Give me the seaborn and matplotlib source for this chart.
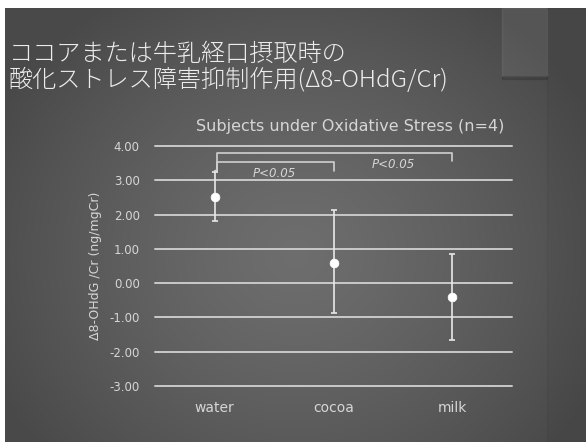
import numpy as np
import pandas as pd
import matplotlib
matplotlib.use("Agg")
import matplotlib.pyplot as plt
import seaborn as sns

# Values
groups = ["water", "cocoa", "milk"]
means = [2.50, 0.60, -0.40]
err_low = [1.80, -0.87, -1.67]
err_high = [3.25, 2.13, 0.85]
yticks = [4.0, 3.0, 2.0, 1.0, 0.0, -1.0, -2.0, -3.0]
# significance brackets: (start group, end group, bar level, end drop level, label)
brackets = [(0, 1, 3.52, 3.26, "P<0.05"), (0, 2, 3.79, 3.56, "P<0.05")]

title_lines = ["ココアまたは牛乳経口摂取時の", "酸化ストレス障害抑制作用(Δ8-OHdG/Cr)"]
subtitle = "Subjects under Oxidative Stress (n=4)"
ylabel = "Δ8-OHdG /Cr (ng/mgCr)"

sns.set_theme(style="dark")
plt.rcParams["font.family"] = ["DejaVu Sans", "Noto Sans CJK JP"]

W, H = 586, 442
fig = plt.figure(figsize=(W / 100, H / 100), dpi=100)
fig.patch.set_facecolor("white")

# slide background with a soft radial highlight
bg = fig.add_axes([5 / W, 0, 1 - 5 / W, 1 - 8 / H])
yy, xx = np.mgrid[0:434, 0:581]
r = np.sqrt(((xx - 290) / 330) ** 2 + ((yy - 245) / 300) ** 2)
shade = 0.43 - 0.14 * np.clip(r, 0, 1) ** 1.3
img = np.dstack([shade, shade, shade])
bg.imshow(img, aspect="auto", extent=[0, 581, 434, 0])
# faint decorative tab top-right
bg.add_patch(plt.Rectangle((497, 0), 45, 68, color="#ffffff", alpha=0.07, zorder=2))
bg.add_patch(plt.Rectangle((497, 68), 45, 3, color="#000000", alpha=0.12, zorder=2))
bg.add_patch(plt.Rectangle((542, 0), 39, 434, color="#000000", alpha=0.03, zorder=2))
bg.set_xlim(0, 581)
bg.set_ylim(434, 0)
bg.axis("off")

cjk = ["Noto Sans CJK JP", "DejaVu Sans"]
fig.text(9 / W, 1 - 54 / H, title_lines[0], color="#ececec", fontsize=17.4,
         va="center", ha="left", family=cjk, fontweight="light")
fig.text(9 / W, 1 - 80 / H, title_lines[1], color="#ececec", fontsize=17.4,
         va="center", ha="left", family=cjk, fontweight="light")

light = "#d6d6d6"
ax = fig.add_axes([155 / W, 1 - 386 / H, (512 - 155) / W, (386 - 146) / H])
ax.patch.set_alpha(0)

df = pd.DataFrame({"group": groups, "mean": means})
sns.scatterplot(data=df, x="group", y="mean", ax=ax, color="white", s=40,
                edgecolor="white", zorder=5, legend=False)
ax.errorbar(np.arange(len(groups)), means,
            yerr=[np.subtract(means, err_low), np.subtract(err_high, means)],
            fmt="none", ecolor="#e8e8e8", elinewidth=1.2, capsize=2.5,
            capthick=1.2, zorder=4)

ax.set_xlim(-0.5, 2.5)
ax.set_ylim(-3, 4)
ax.set_yticks(yticks)
ax.set_yticklabels([f"{v:.2f}" for v in yticks], color=light, fontsize=8.5)
ax.set_xticks(range(len(groups)))
ax.set_xticklabels(groups, color=light, fontsize=10)
ax.tick_params(length=0)
ax.tick_params(axis="y", pad=11)
ax.tick_params(axis="x", pad=11)
for v in yticks:
    ax.axhline(v, color="#c9c9c9", lw=1.4, zorder=1, clip_on=False)
for s in ax.spines.values():
    s.set_visible(False)
ax.grid(False)
ax.set_xlabel("")
ax.set_ylabel(ylabel, color=light, fontsize=9, labelpad=5)

for x0, x1, lvl, drop, lab in brackets:
    ax.plot([x0 + 0.02, x0 + 0.02, x1, x1], [3.27, lvl, lvl, drop],
            color="#d0d0d0", lw=1.2, zorder=3)
    xm = (x0 + x1) / 2 if x1 == 1 else 1.5
    ax.text(xm, lvl - 0.32, lab, color=light, fontsize=8.5, style="italic",
            ha="center", va="center")
ax.plot([0.0, 0.02], [3.27, 3.30], color="#d0d0d0", lw=1.2, zorder=3)

fig.text(350 / W, 1 - 127 / H, subtitle, color=light, fontsize=11.5,
         ha="center", va="center")

fig.savefig("out.png", dpi=100)
